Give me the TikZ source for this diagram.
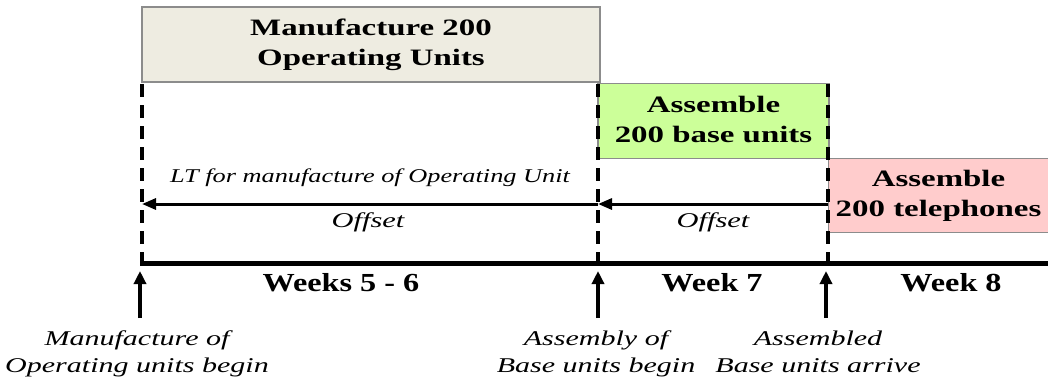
\documentclass[tikz,border=0pt]{standalone}
\usepackage{fontspec}
\setmainfont{Liberation Serif}
\usepackage{graphicx}
\usetikzlibrary{arrows.meta}
\newcommand{\hstretch}[2]{\scalebox{#1}[1]{#2}}
\definecolor{boxgray}{HTML}{EEECE1}
\definecolor{boxgreen}{HTML}{CCFF99}
\definecolor{boxpink}{HTML}{FFCCCC}
\definecolor{edgegray}{HTML}{8C8C8C}
\begin{document}
\begin{tikzpicture}[x=1pt,y=-1pt,
  taskbox/.style={draw=edgegray,line width=1.2pt,inner sep=0pt,align=center,
     font=\fontsize{23.5}{30}\selectfont\bfseries},
  weeklbl/.style={inner sep=0pt,font=\fontsize{26}{30}\selectfont\bfseries},
  evlbl/.style={inner sep=0pt,align=center,font=\fontsize{21}{27}\selectfont\itshape},
  arrlbl/.style={inner sep=0pt,font=\fontsize{19.5}{24}\selectfont\itshape},
  offlbl/.style={inner sep=0pt,font=\fontsize{21}{24}\selectfont\itshape},
  guide/.style={line width=4pt,dash pattern=on 13pt off 8pt},
  offsetarrow/.style={line width=3pt,-{Triangle[length=14pt,width=11pt]}},
  uparrow/.style={line width=3.5pt,-{Triangle[length=13pt,width=12pt]}},
  timeline/.style={line width=5pt}]
\useasboundingbox (0,0) rectangle (1048,383);

% task boxes
\node[taskbox,fill=boxgray,minimum width=458pt,minimum height=75pt] (mfg) at (371,44.5)
  {\hstretch{1.40}{\begin{tabular}{@{}c@{}}Manufacture 200\\Operating Units\end{tabular}}};
\node[taskbox,fill=boxgreen,minimum width=231pt,minimum height=75pt] (base) at (713.5,121)
  {\hstretch{1.40}{\begin{tabular}{@{}c@{}}Assemble\\200 base units\end{tabular}}};
\node[taskbox,fill=boxpink,minimum width=220pt,minimum height=74pt] (tel) at (938.5,195.5)
  {\hstretch{1.40}{\begin{tabular}{@{}c@{}}Assemble\\200 telephones\end{tabular}}};

% guide coordinates
\coordinate (g1t) at (142,84);
\coordinate (g1b) at (142,262);
\coordinate (g2t) at (598,84);
\coordinate (g2b) at (598,262);
\coordinate (g3t) at (828,84);
\coordinate (g3b) at (828,262);
\coordinate (a1) at (142,204);
\coordinate (a2) at (598,204);
\coordinate (a3) at (828,204);
\coordinate (tl0) at (140,263);
\coordinate (tl1) at (1048,263);

% dashed guides
\draw[guide] (g1t) -- (g1b);
\draw[guide] (g2t) -- (g2b);
\draw[guide] (g3t) -- (g3b);

% offset arrows
\draw[offsetarrow] (a2) -- (a1);
\draw[offsetarrow] (a3) -- (a2);
\node[arrlbl] (lt) at (370,178) {\hstretch{1.35}{LT for manufacture of Operating Unit}};
\node[offlbl] (off1) at (368,222) {\hstretch{1.45}{Offset}};
\node[offlbl] (off2) at (713,222) {\hstretch{1.45}{Offset}};

% timeline
\draw[timeline] (tl0) -- (tl1);
\node[weeklbl] (w56) at (341,283) {\hstretch{1.24}{Weeks 5 - 6}};
\node[weeklbl] (w7) at (712,283) {\hstretch{1.24}{Week 7}};
\node[weeklbl] (w8) at (951,283) {\hstretch{1.24}{Week 8}};

% event arrows
\coordinate (u1b) at (140,318);
\coordinate (u1t) at (140,271);
\coordinate (u2b) at (598,318);
\coordinate (u2t) at (598,271);
\coordinate (u3b) at (826,318);
\coordinate (u3t) at (826,271);
\draw[uparrow] (u1b) -- (u1t);
\draw[uparrow] (u2b) -- (u2t);
\draw[uparrow] (u3b) -- (u3t);

\node[evlbl] (e1) at (137,354) {\hstretch{1.43}{\begin{tabular}{@{}c@{}}Manufacture of\\Operating units begin\end{tabular}}};
\node[evlbl] (e2) at (596,354) {\hstretch{1.43}{\begin{tabular}{@{}c@{}}Assembly of\\Base units begin\end{tabular}}};
\node[evlbl] (e3) at (818,354) {\hstretch{1.43}{\begin{tabular}{@{}c@{}}Assembled\\Base units arrive\end{tabular}}};
\end{tikzpicture}
\end{document}
